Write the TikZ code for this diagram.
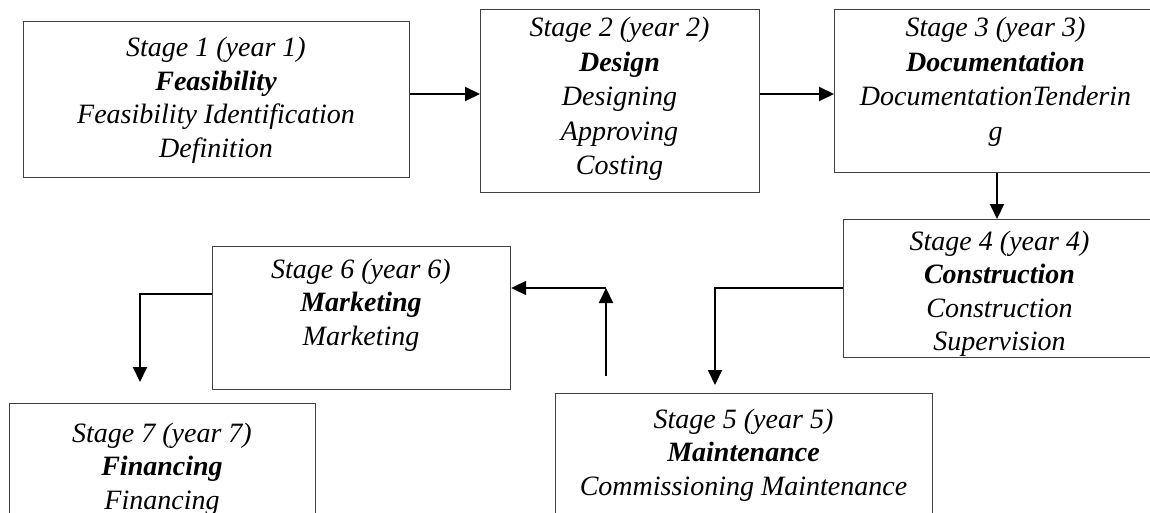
\documentclass[tikz,border=0pt]{standalone}
\usepackage{fontspec}
\setmainfont{Liberation Serif}
\usetikzlibrary{arrows.meta}
\begin{document}
\begin{tikzpicture}[x=1pt,y=-1pt,
  box/.style={draw=black!75, line width=1.2pt, rectangle, inner sep=0pt, anchor=north west},
  txt/.style={align=center, anchor=base, inner sep=0pt, font=\fontsize{28}{33.5}\selectfont\itshape},
  wtxt/.style={txt, font=\fontsize{28}{34.5}\selectfont\itshape},
  arr/.style={line width=2pt, -{Triangle[length=15pt,width=14pt]}}]
\useasboundingbox (0,0) rectangle (1150,513);
\clip (0,0) rectangle (1150,513);
% boxes
\node[box, minimum width=386pt, minimum height=156pt] (b1) at (23,21) {};
\node[box, minimum width=279pt, minimum height=183pt] (b2) at (480,9) {};
\node[box, minimum width=323pt, minimum height=163pt] (b3) at (834,9) {};
\node[box, minimum width=313pt, minimum height=138pt] (b4) at (843,219) {};
\node[box, minimum width=377pt, minimum height=140pt] (b5) at (555,393) {};
\node[box, minimum width=298pt, minimum height=143pt] (b6) at (212,246) {};
\node[box, minimum width=306pt, minimum height=130pt] (b7) at (9,403) {};
% texts (anchor = baseline of last line)
\node[txt] (t1) at (216,157.5) {Stage 1 (year 1)\\ \textbf{Feasibility}\\ Feasibility Identification\\ Definition};
\node[wtxt] (t2) at (619.5,175) {Stage 2 (year 2)\\ \textbf{Design}\\ Designing\\ Approving\\ Costing};
\node[wtxt] (t3) at (995.5,140.5) {Stage 3 (year 3)\\ \textbf{Documentation}\\ DocumentationTenderin\\ g};
\node[txt] (t4) at (999.5,350.5) {Stage 4 (year 4)\\ \textbf{Construction}\\ Construction\\ Supervision};
\node[txt] (t5) at (743.5,495) {Stage 5 (year 5)\\ \textbf{Maintenance}\\ Commissioning Maintenance};
\node[txt] (t6) at (361,345) {Stage 6 (year 6)\\ \textbf{Marketing}\\ Marketing};
\node[txt] (t7) at (162,509) {Stage 7 (year 7)\\ \textbf{Financing}\\ Financing};
% connectors
\draw[arr] (b1.east |- 0,94) -- (b2.west |- 0,94);
\draw[arr] (b2.east |- 0,94) -- (b3.west |- 0,94);
\draw[arr] (b3.south -| 997,0) -- (b4.north -| 997,0);
\draw[arr, shorten >=8pt] (b4.west |- 0,288) -| (b5.north -| 715,0);
\coordinate (c56) at (606,288);
\draw[arr, shorten <=17pt] (b5.north -| c56) -- (c56);
\draw[arr] (c56) -- (b6.east |- c56);
\draw[arr, shorten >=21pt] (b6.west |- 0,294) -| (b7.north -| 140,0);
\end{tikzpicture}
\end{document}
